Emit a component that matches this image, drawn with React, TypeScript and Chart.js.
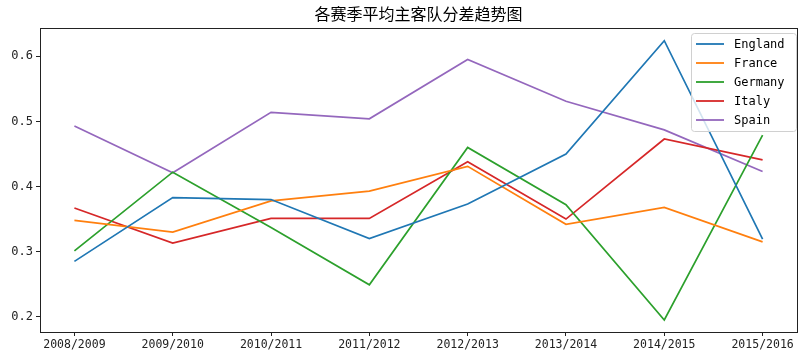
import React, { useEffect, useRef } from "react";
import { Chart, registerables } from "chart.js";

Chart.register(...registerables);

const title = "各赛季平均主客队分差趋势图";
const seasons = ["2008/2009", "2009/2010", "2010/2011", "2011/2012", "2012/2013", "2013/2014", "2014/2015", "2015/2016"];
const england = [0.285, 0.383, 0.380, 0.320, 0.373, 0.450, 0.624, 0.319];
const france = [0.348, 0.330, 0.378, 0.393, 0.431, 0.342, 0.368, 0.315];
const germany = [0.301, 0.422, 0.337, 0.249, 0.460, 0.372, 0.195, 0.479];
const italy = [0.367, 0.313, 0.351, 0.351, 0.438, 0.350, 0.473, 0.441];
const spain = [0.493, 0.421, 0.514, 0.504, 0.595, 0.531, 0.487, 0.423];
const yTicks = [0.2, 0.3, 0.4, 0.5, 0.6];
const seriesNames = ["England", "France", "Germany", "Italy", "Spain"];
const seriesValues = [england, france, germany, italy, spain];
const colors = ["#1f77b4", "#ff7f0e", "#2ca02c", "#d62728", "#9467bd"];

const overlay = {
  id: "overlay",
  afterDraw(chart: any) {
    const ctx = chart.ctx;
    const a = chart.chartArea;
    ctx.save();
    ctx.strokeStyle = "#222";
    ctx.lineWidth = 1;
    ctx.strokeRect(Math.round(a.left) + 0.5, Math.round(a.top) + 0.5, Math.round(a.right - a.left), Math.round(a.bottom - a.top));
    ctx.fillStyle = "#000";
    ctx.font = '16px "Noto Sans CJK SC"';
    ctx.textAlign = "center";
    ctx.textBaseline = "middle";
    ctx.fillText(title, (a.left + a.right) / 2, 13.5);
    const bx = 691, by = 33, bw = 105, bh = 98;
    ctx.beginPath();
    ctx.roundRect(bx + 0.5, by + 0.5, bw, bh, 3);
    ctx.fillStyle = "rgba(255,255,255,0.8)";
    ctx.fill();
    ctx.strokeStyle = "#d0d0d0";
    ctx.stroke();
    ctx.font = '12px "DejaVu Sans Mono"';
    ctx.textAlign = "left";
    ctx.textBaseline = "middle";
    chart.data.datasets.forEach((ds: any, i: number) => {
      const y = 44 + i * 19;
      ctx.strokeStyle = ds.borderColor;
      ctx.lineWidth = 1.8;
      ctx.beginPath();
      ctx.moveTo(696, y);
      ctx.lineTo(724, y);
      ctx.stroke();
      ctx.fillStyle = "#000";
      ctx.fillText(ds.label, 734, y + 1);
    });
    ctx.restore();
  },
};

export default function App() {
  const ref = useRef<HTMLCanvasElement>(null);
  useEffect(() => {
    document.body.style.margin = "0";
    const chart = new Chart(ref.current!, {
      type: "line",
      data: {
        datasets: seriesNames.map((name, i) => ({
          label: name,
          data: seriesValues[i].map((v, j) => ({ x: j, y: v })),
          borderColor: colors[i],
          backgroundColor: colors[i],
          borderWidth: 1.7,
          pointRadius: 0,
          tension: 0,
          fill: false,
        })),
      },
      options: {
        responsive: false,
        animation: false,
        layout: { padding: { top: 28, right: 11, left: 0, bottom: 0 } },
        plugins: { legend: { display: false }, title: { display: false }, tooltip: { enabled: false } },
        scales: {
          x: {
            type: "linear",
            min: -0.35,
            max: 7.35,
            afterBuildTicks: (s: any) => { s.ticks = seasons.map((_, i) => ({ value: i })); },
            afterFit: (s: any) => { s.height = 30; },
            ticks: {
              callback: (v: any) => seasons[v as number] ?? "",
              font: { family: "DejaVu Sans Mono", size: 11.5 },
              color: "#222",
              padding: 2,
              maxRotation: 0,
              autoSkip: false,
            },
            grid: { drawOnChartArea: false, drawTicks: true, tickLength: 4, color: "#222" },
            border: { display: false },
          },
          y: {
            type: "linear",
            min: 0.1765,
            max: 0.6435,
            afterBuildTicks: (s: any) => { s.ticks = yTicks.map((v) => ({ value: v })); },
            afterFit: (s: any) => { s.width = 40; },
            ticks: {
              callback: (v: any) => Number(v).toFixed(1),
              font: { family: "DejaVu Sans Mono", size: 12 },
              color: "#222",
              padding: 3,
            },
            grid: { drawOnChartArea: false, drawTicks: true, tickLength: 4, color: "#222" },
            border: { display: false },
          },
        },
      },
      plugins: [overlay],
    });
    return () => chart.destroy();
  }, []);
  return (
    <div style={{ width: 808, height: 362, background: "#fff" }}>
      <canvas ref={ref} width={808} height={362} style={{ display: "block" }} />
    </div>
  );
}
